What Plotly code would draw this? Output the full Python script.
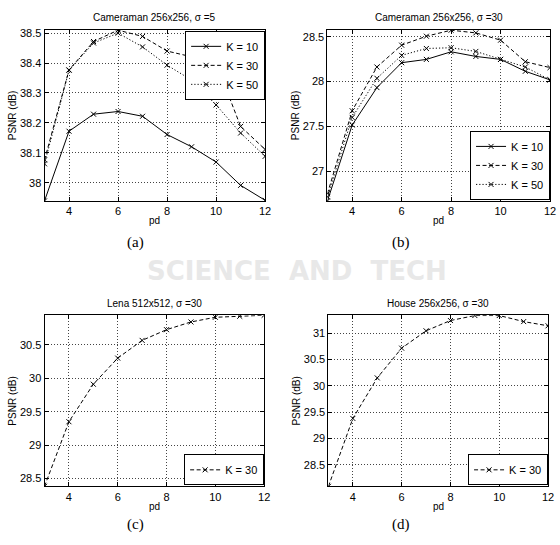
import plotly.graph_objects as go

pd_vals = [3, 4, 5, 6, 7, 8, 9, 10, 11, 12]

# (a) Cameraman sigma=5
cam5_k10 = [37.939, 38.172, 38.229, 38.238, 38.222, 38.161, 38.120, 38.069, 37.991, 37.941]
cam5_k30 = [38.076, 38.377, 38.472, 38.510, 38.489, 38.440, 38.421, 38.400, 38.188, 38.111]
cam5_k50 = [38.063, 38.376, 38.467, 38.500, 38.454, 38.393, 38.343, 38.260, 38.166, 38.088]

# (b) Cameraman sigma=30
cam30_k10 = [26.667, 27.515, 27.933, 28.211, 28.248, 28.333, 28.281, 28.248, 28.115, 28.019]
cam30_k30 = [26.748, 27.674, 28.163, 28.407, 28.507, 28.574, 28.544, 28.463, 28.222, 28.156]
cam30_k50 = [26.711, 27.600, 28.037, 28.293, 28.370, 28.378, 28.337, 28.248, 28.163, 28.019]

# (c) Lena sigma=30
lena_k30 = [28.385, 29.35, 29.91, 30.30, 30.565, 30.725, 30.84, 30.91, 30.925, 30.94]

# (d) House sigma=30
house_k30 = [28.09, 29.38, 30.15, 30.715, 31.045, 31.24, 31.335, 31.335, 31.22, 31.14]

titles = ["Cameraman 256x256, σ =5", "Cameraman 256x256, σ =30",
          "Lena 512x512, σ =30", "House 256x256, σ =30"]
captions = ["(a)", "(b)", "(c)", "(d)"]
x_ticks = [4, 6, 8, 10, 12]
y_ticks_a = [38.0, 38.1, 38.2, 38.3, 38.4, 38.5]
y_ticks_b = [27.0, 27.5, 28.0, 28.5]
y_ticks_c = [28.5, 29.0, 29.5, 30.0, 30.5]
y_ticks_d = [28.5, 29.0, 29.5, 30.0, 30.5, 31.0]
y_labels_a = ["38", "38.1", "38.2", "38.3", "38.4", "38.5"]
y_labels_b = ["27", "27.5", "28", "28.5"]
y_labels_c = ["28.5", "29", "29.5", "30", "30.5"]
y_labels_d = ["28.5", "29", "29.5", "30", "30.5", "31"]

W, H = 560, 545
FONT = "Liberation Sans, Arial, sans-serif"
DASH = "4px,2.5px"
DOT = "1.2px,2px"

# plot-area boxes in window pixels (left, right, top, bottom)
boxes = [(45, 268, 27, 199), (331, 556, 27, 199), (45, 267, 314, 486), (332, 554, 314, 486)]
caption_y = [241, 241, 524, 524]
yranges = [(37.939, 38.511), (26.667, 28.578), (28.385, 30.94), (28.09, 31.34)]
yticks = [(y_ticks_a, y_labels_a), (y_ticks_b, y_labels_b), (y_ticks_c, y_labels_c), (y_ticks_d, y_labels_d)]

fig = go.Figure()


def px_x(v):
    return v / W


def px_y(v):
    return 1 - v / H


def add_line(xa, ya, y, name, dash, legend):
    fig.add_trace(go.Scatter(
        x=pd_vals, y=y, mode="lines+markers", name=name,
        xaxis=xa, yaxis=ya, legend=legend,
        line=dict(color="black", width=1, dash=dash),
        marker=dict(symbol="x-thin", size=5, line=dict(color="black", width=1), color="black"),
    ))


add_line("x", "y", cam5_k10, "K = 10", "solid", "legend")
add_line("x", "y", cam5_k30, "K = 30", DASH, "legend")
add_line("x", "y", cam5_k50, "K = 50", DOT, "legend")
add_line("x2", "y2", cam30_k10, "K = 10", "solid", "legend2")
add_line("x2", "y2", cam30_k30, "K = 30", DASH, "legend2")
add_line("x2", "y2", cam30_k50, "K = 50", DOT, "legend2")
add_line("x3", "y3", lena_k30, "K = 30", DASH, "legend3")
add_line("x4", "y4", house_k30, "K = 30", DASH, "legend4")

layout = dict(
    width=W, height=H, margin=dict(l=0, r=0, t=0, b=0),
    paper_bgcolor="white", plot_bgcolor="rgba(0,0,0,0)",
    font=dict(family=FONT, size=11, color="black"),
    showlegend=True,
)

annotations = []
# faint watermark text in the gap between the rows
annotations.append(dict(text="<b>SCIENCE  AND  TECH</b>", x=px_x(300), y=px_y(269), xref="paper", yref="paper",
                        showarrow=False, font=dict(size=26, family="DejaVu Sans", color="#e8e8e8"),
                        xanchor="center", yanchor="middle"))

for i, (l, r, t, b) in enumerate(boxes):
    sfx = "" if i == 0 else str(i + 1)
    tv, tl = yticks[i]
    common = dict(showline=True, mirror="ticks", linecolor="black", linewidth=1,
                  ticks="inside", ticklen=4, tickcolor="black",
                  showgrid=True, gridcolor="#444444", griddash="1px,2px", gridwidth=0.8,
                  zeroline=False, tickfont=dict(size=11, family=FONT))
    layout["xaxis" + sfx] = dict(domain=[px_x(l), px_x(r)], range=[3, 12],
                                 tickvals=x_ticks, anchor="y" + sfx, **common)
    layout["yaxis" + sfx] = dict(domain=[px_y(b), px_y(t)], range=list(yranges[i]),
                                 tickvals=tv, ticktext=tl, anchor="x" + sfx, **common)
    cx = (l + r) / 2
    annotations.append(dict(text=titles[i], x=px_x(cx), y=px_y(t - 12), xref="paper", yref="paper",
                            showarrow=False, font=dict(size=10, family=FONT), xanchor="center", yanchor="middle"))
    annotations.append(dict(text="pd", x=px_x(cx), y=px_y(b + 20), xref="paper", yref="paper",
                            showarrow=False, font=dict(size=10, family=FONT), xanchor="center", yanchor="middle"))
    annotations.append(dict(text="PSNR (dB)", x=px_x(l - 32), y=px_y((t + b) / 2), xref="paper", yref="paper",
                            showarrow=False, textangle=-90, font=dict(size=10, family=FONT),
                            xanchor="center", yanchor="middle"))
    annotations.append(dict(text=captions[i], x=px_x(137 if i % 2 == 0 else 405), y=px_y(caption_y[i]),
                            xref="paper", yref="paper", showarrow=False,
                            font=dict(size=15, family="Liberation Serif, Times New Roman, serif"),
                            xanchor="center", yanchor="middle"))

leg_common = dict(bordercolor="black", borderwidth=1, bgcolor="white",
                  font=dict(size=11, family=FONT), itemwidth=30, tracegroupgap=0)
layout["legend"] = dict(x=px_x(268), y=px_y(28), xanchor="right", yanchor="top", **leg_common)
layout["legend2"] = dict(x=px_x(556), y=px_y(198), xanchor="right", yanchor="bottom", **leg_common)
layout["legend3"] = dict(x=px_x(267), y=px_y(485), xanchor="right", yanchor="bottom", **leg_common)
layout["legend4"] = dict(x=px_x(554), y=px_y(485), xanchor="right", yanchor="bottom", **leg_common)
layout["annotations"] = annotations

fig.update_layout(**layout)
fig.write_html("out.html", config={"displayModeBar": False},
               post_script="document.body.style.margin='0';document.body.style.overflow='hidden';")
